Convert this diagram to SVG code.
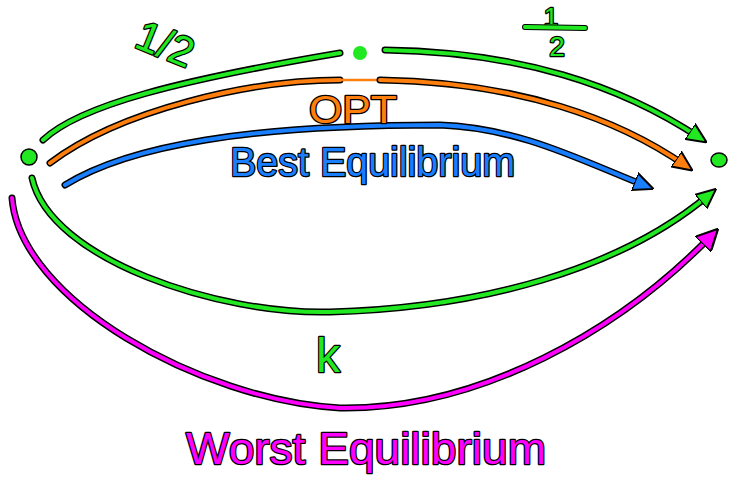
<svg xmlns="http://www.w3.org/2000/svg" width="735" height="481" viewBox="0 0 735 481">
<style>
.under{fill:none;stroke:#000;stroke-width:7;stroke-linecap:round;stroke-linejoin:round}
.ln{fill:none;stroke-width:4;stroke-linecap:round;stroke-linejoin:round}
.g{stroke:#22e822}.o{stroke:#ff7f0e}.b{stroke:#1a7fff}.m{stroke:#ff00ff}
.lbl{font-family:"Liberation Sans","DejaVu Sans",sans-serif;paint-order:stroke;stroke:#000;stroke-width:2.5;stroke-linejoin:round}
.dot{stroke:#000;stroke-width:1.5}
</style>
<defs>
<marker id="ag" viewBox="0 0 10 10" refX="6" refY="5" markerWidth="20" markerHeight="20" markerUnits="userSpaceOnUse" orient="auto"><path d="M0,0.5 L10,5 L0,9.5 z" fill="#22e822" stroke="#000" stroke-width="1"/></marker>
<marker id="ao" viewBox="0 0 10 10" refX="6" refY="5" markerWidth="20" markerHeight="20" markerUnits="userSpaceOnUse" orient="auto"><path d="M0,0.5 L10,5 L0,9.5 z" fill="#ff7f0e" stroke="#000" stroke-width="1"/></marker>
<marker id="ab" viewBox="0 0 10 10" refX="6" refY="5" markerWidth="20" markerHeight="20" markerUnits="userSpaceOnUse" orient="auto"><path d="M0,0.5 L10,5 L0,9.5 z" fill="#1a7fff" stroke="#000" stroke-width="1"/></marker>
<marker id="am" viewBox="0 0 10 10" refX="6" refY="5" markerWidth="22" markerHeight="22" markerUnits="userSpaceOnUse" orient="auto"><path d="M0,0 L10,5 L0,10 z" fill="#ff00ff" stroke="#000" stroke-width="1"/></marker>
</defs>
<rect width="735" height="481" fill="#fff"/>
<g id="connectors">
<path class="under" d="M43,140 C80,105 180,80 340,53"/>
<path class="ln g" d="M43,140 C80,105 180,80 340,53"/>
<path class="under" d="M385,50 C520,52 620,85 700,138"/>
<path class="ln g" d="M385,50 C520,52 620,85 700,138" marker-end="url(#ag)"/>
<path class="under" d="M50,163 C120,110 250,80 340,80"/>
<path class="ln o" d="M50,163 C120,110 250,80 340,80"/>
<path class="ln o" d="M340,80 L380,80" style="stroke-width:2.5"/>
<path class="under" d="M380,80 C520,82 620,120 686,166"/>
<path class="ln o" d="M380,80 C520,82 620,120 686,166" marker-end="url(#ao)"/>
<path class="under" d="M65,185 C130,145 250,125 440,125 C520,128 580,160 646,186"/>
<path class="ln b" d="M65,185 C130,145 250,125 440,125 C520,128 580,160 646,186" marker-end="url(#ab)"/>
<path class="under" d="M32,178 C50,260 220,315 330,312 C480,308 620,270 710,194"/>
<path class="ln g" d="M32,178 C50,260 220,315 330,312 C480,308 620,270 710,194" marker-end="url(#ag)"/>
<path class="under" d="M12,198 C20,300 200,400 340,408 C480,410 620,330 712,235"/>
<path class="ln m" d="M12,198 C20,300 200,400 340,408 C480,410 620,330 712,235" marker-end="url(#am)"/>
</g>
<g id="node-left"><circle class="dot" cx="29" cy="157" r="8" fill="#22e822"/></g>
<g id="node-top"><circle cx="360" cy="53" r="7" fill="#22e822"/></g>
<g id="node-right"><ellipse class="dot" cx="719" cy="160" rx="8" ry="7" fill="#22e822"/></g>
<g id="label-half-left"><text class="lbl" x="138" y="56" font-size="42" fill="#22e822" transform="rotate(22 160 38)">1/2</text></g>
<g id="label-half-right">
<text class="lbl" x="551" y="26" font-size="26" fill="#22e822" text-anchor="middle">1</text>
<path class="under" d="M525,27 L585,28" style="stroke-width:6"/>
<path class="ln g" d="M525,27 L585,28"/>
<text class="lbl" x="557" y="56" font-size="28" fill="#22e822" text-anchor="middle">2</text>
</g>
<g id="label-opt"><text class="lbl" x="309" y="123" font-size="38" fill="#ff7f0e" textLength="88" lengthAdjust="spacingAndGlyphs">OPT</text></g>
<g id="label-best"><text class="lbl" x="230" y="176" font-size="40" fill="#1a7fff" textLength="285" lengthAdjust="spacingAndGlyphs">Best Equilibrium</text></g>
<g id="label-k"><text class="lbl" x="316" y="372" font-size="48" fill="#22e822">k</text></g>
<g id="label-worst"><text class="lbl" x="186" y="464" font-size="44" fill="#ff00ff" textLength="360" lengthAdjust="spacingAndGlyphs">Worst Equilibrium</text></g>
</svg>
